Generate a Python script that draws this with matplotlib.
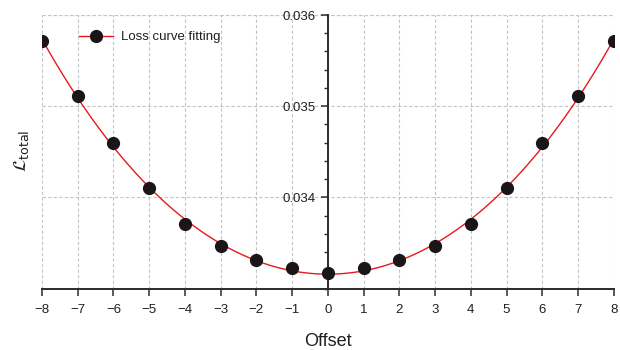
import numpy as np
import matplotlib
matplotlib.use("Agg")
import matplotlib.pyplot as plt
from matplotlib.ticker import MultipleLocator

plt.rcParams['font.family'] = ['Liberation Sans', 'DejaVu Sans']
plt.rcParams['mathtext.fontset'] = 'dejavusans'

# Measured loss at each offset
offsets = [-8, -7, -6, -5, -4, -3, -2, -1, 0, 1, 2, 3, 4, 5, 6, 7, 8]
loss = [0.035714, 0.035110, 0.034597, 0.034107, 0.033703, 0.033462, 0.033315,
        0.033231, 0.033168, 0.033231, 0.033315, 0.033462, 0.033703, 0.034107,
        0.034597, 0.035110, 0.035714]
x_ticks = list(range(-8, 9))
x_labels = [str(v).replace('-', '\u2212') for v in x_ticks]
y_ticks = [0.034, 0.035, 0.036]
y_labels = ['0.034', '0.035', '0.036']

text_c = '#231f20'
spine_c = '#2b2b2b'

fig = plt.figure(figsize=(6.2, 3.5), dpi=100)
ax = fig.add_axes([0.0677, 0.1754, 0.9223, 0.7817])

# Smooth fitted curve through the measurements
coef = np.polyfit(offsets, loss, 4)
xs = np.linspace(-8, 8, 400)
ax.plot(xs, np.polyval(coef, xs), color='#e8191e', lw=1.0, zorder=3)
ax.plot(offsets, loss, 'o', color='#1c1517', ms=8.5, zorder=4)

# Legend proxy: line with marker
ax.plot([], [], '-o', color='#e8191e', mfc='#1c1517', mec='#1c1517', ms=8.5,
        lw=1.0, label='Loss curve fitting')
leg = ax.legend(loc='upper left', bbox_to_anchor=(0.048, 0.975), frameon=False,
                fontsize=9.5, handlelength=2.6, handletextpad=0.6,
                borderaxespad=0.3)
for t in leg.get_texts():
    t.set_color(text_c)

ax.set_xlim(-8, 8)
ax.set_ylim(0.033, 0.036)

ax.spines['left'].set_position(('data', 0))
ax.spines['top'].set_visible(False)
ax.spines['right'].set_visible(False)
for s in ('left', 'bottom'):
    ax.spines[s].set_color(spine_c)
    ax.spines[s].set_linewidth(1.4)

ax.set_xticks(x_ticks)
ax.set_xticklabels(x_labels)
ax.set_yticks(y_ticks)
ax.set_yticklabels(y_labels)
ax.yaxis.set_minor_locator(MultipleLocator(0.0002))
ax.tick_params(axis='both', which='major', labelsize=9.5, colors=spine_c,
               labelcolor=text_c, length=5, width=1.1, direction='out')
ax.tick_params(axis='x', which='major', pad=6)
ax.tick_params(axis='y', which='minor', length=3, width=1.0, colors=spine_c,
               direction='out')

ax.grid(True, which='major', color='#c4c4c4', ls=(0, (3, 2)), lw=0.8)
ax.set_axisbelow(True)
# horizontal line at the top limit
ax.axhline(0.036, color='#c4c4c4', ls=(0, (3, 2)), lw=0.8, zorder=0)

ax.set_xlabel('Offset', fontsize=13, color=text_c, labelpad=12.5)
fig.text(0.035, 0.57, r'$\mathcal{L}_{\mathrm{total}}$', rotation=90,
         fontsize=13, color=text_c, ha='center', va='center')

fig.savefig('out.png', dpi=100)
